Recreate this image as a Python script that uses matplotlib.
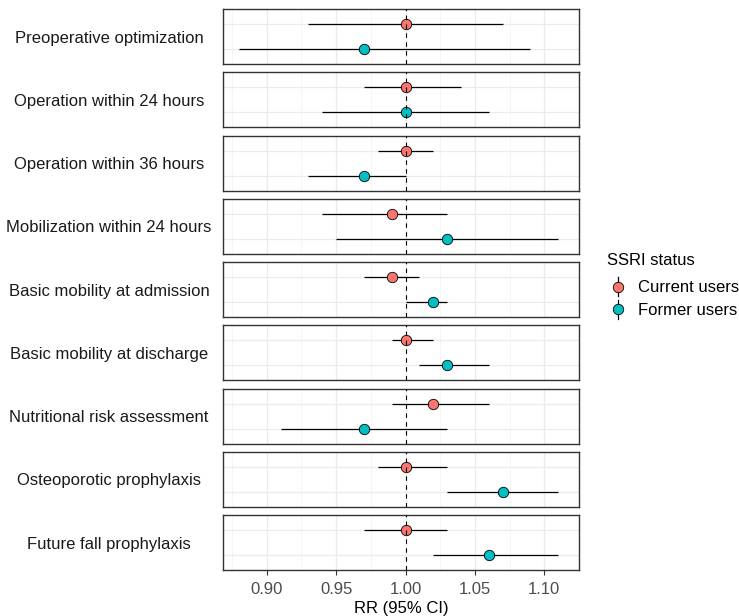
import matplotlib
matplotlib.use("Agg")
import matplotlib.pyplot as plt
from matplotlib.lines import Line2D
from matplotlib.legend_handler import HandlerBase
from matplotlib.transforms import blended_transform_factory

plt.rcParams['font.family'] = ['Liberation Sans', 'DejaVu Sans']

outcomes = ["Preoperative optimization", "Operation within 24 hours",
            "Operation within 36 hours", "Mobilization within 24 hours",
            "Basic mobility at admission", "Basic mobility at discharge",
            "Nutritional risk assessment", "Osteoporotic prophylaxis",
            "Future fall prophylaxis"]
groups = ["Current users", "Former users"]
colors = {"Current users": "#F8766D", "Former users": "#00BFC4"}

current_rr = [1.00, 1.00, 1.00, 0.99, 0.99, 1.00, 1.02, 1.00, 1.00]
current_lo = [0.93, 0.97, 0.98, 0.94, 0.97, 0.99, 0.99, 0.98, 0.97]
current_hi = [1.07, 1.04, 1.02, 1.03, 1.01, 1.02, 1.06, 1.03, 1.03]

former_rr = [0.97, 1.00, 0.97, 1.03, 1.02, 1.03, 0.97, 1.07, 1.06]
former_lo = [0.88, 0.94, 0.93, 0.95, 1.00, 1.01, 0.91, 1.03, 1.02]
former_hi = [1.09, 1.06, 1.00, 1.11, 1.03, 1.06, 1.03, 1.11, 1.11]

xticks = [0.90, 0.95, 1.00, 1.05, 1.10]
xticklabels = ["0.90", "0.95", "1.00", "1.05", "1.10"]

series = {
    "Current users": (current_rr, current_lo, current_hi, 2),
    "Former users": (former_rr, former_lo, former_hi, 1),
}


class HandlerPointRange(HandlerBase):
    def create_artists(self, legend, orig_handle, xdescent, ydescent,
                       width, height, fontsize, trans):
        cx = -xdescent + width / 2
        y0 = -ydescent
        vline = Line2D([cx, cx], [y0, y0 + height],
                       color='black', lw=0.9, transform=trans)
        pt = Line2D([cx], [y0 + height / 2], marker='o', ms=7.5,
                    mfc=orig_handle.get_markerfacecolor(), mec='black',
                    mew=0.6, ls='none', transform=trans)
        return [vline, pt]


W, H = 739, 616
fig, axes = plt.subplots(9, 1, figsize=(W / 100, H / 100), dpi=100, sharex=True,
                         gridspec_kw=dict(hspace=0.15))
fig.subplots_adjust(left=223 / W, right=579 / W, top=1 - 9 / H, bottom=1 - 570 / H)

all_vals = current_lo + current_hi + former_lo + former_hi
lo, hi = min(all_vals), max(all_vals)
pad = (hi - lo) * 0.05
minor = [0.875, 0.925, 0.975, 1.025, 1.075, 1.125]

for i, ax in enumerate(axes):
    ax.set_xlim(lo - pad, hi + pad)
    ax.set_ylim(0.4, 2.6)
    ax.set_yticks([1, 2])
    ax.set_yticklabels([])
    ax.set_xticks(xticks)
    ax.set_xticks(minor, minor=True)
    ax.tick_params(axis='y', length=0)
    ax.tick_params(axis='x', which='minor', length=0)
    ax.grid(True, which='major', color='#EBEBEB', lw=0.9, zorder=0)
    ax.grid(True, which='minor', axis='x', color='#F2F2F2', lw=0.5, zorder=0)
    ax.set_axisbelow(True)
    for sp in ax.spines.values():
        sp.set_color('#333333')
        sp.set_linewidth(1.0)
    for g in groups:
        rr, l, h, yv = series[g]
        ax.hlines(yv, l[i], h[i], color='black', lw=0.9, zorder=2)
        ax.plot(rr[i], yv, marker='o', ms=7.5, mfc=colors[g], mec='black',
                mew=0.6, ls='none', zorder=3)
    ax.axvline(1.0, color='black', lw=0.8, ls=(0, (4, 4)), zorder=4)
    tr = blended_transform_factory(fig.transFigure, ax.transAxes)
    ax.text(109 / W, 0.47, outcomes[i], transform=tr, ha='center', va='center',
            fontsize=12, color='#1A1A1A', clip_on=False)
    if i < 8:
        ax.tick_params(axis='x', which='major', length=0, labelbottom=False)

axb = axes[-1]
axb.set_xticklabels(xticklabels)
axb.tick_params(axis='x', which='major', length=3.5, width=0.8, color='#333333',
                labelsize=12, labelcolor='#4D4D4D', pad=5.5)
axb.set_xlabel("RR (95% CI)", fontsize=12, labelpad=2.5, color='black')

handles = [Line2D([], [], marker='o', mfc=colors[g], mec='black', ls='none')
           for g in groups]
leg = fig.legend(handles, groups, handler_map={Line2D: HandlerPointRange()},
                 loc='center left', bbox_to_anchor=(595 / W, 1 - 286 / H),
                 frameon=False, title="SSRI status", fontsize=12, title_fontsize=12,
                 handlelength=1.4, handleheight=1.4, handletextpad=0.5,
                 labelspacing=0.2, alignment='left', borderpad=0.2)
leg._legend_box.sep = 6.5
leg.get_title().set_color('black')
for t in leg.get_texts():
    t.set_color('black')

fig.savefig("out.png", dpi=100)
